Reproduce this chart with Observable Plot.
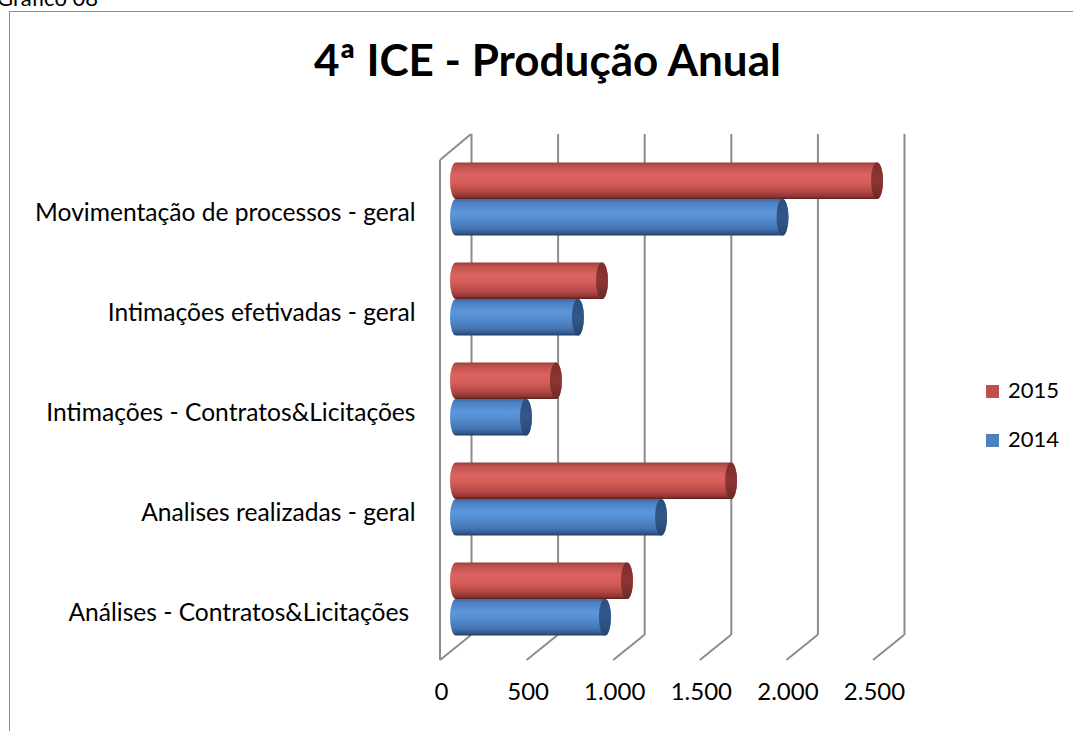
<!DOCTYPE html>
<html><head><meta charset="utf-8">
<script src="https://cdn.jsdelivr.net/npm/d3@7"></script>
<script src="https://cdn.jsdelivr.net/npm/@observablehq/plot@0.6"></script>
<style>
body{margin:0;background:#fff;font-family:Lato,"Open Sans",sans-serif;color:#000;}
#wrap{position:relative;width:1073px;height:731px;overflow:hidden;background:#fff;}
#frame{position:absolute;left:9px;top:11px;width:1200px;height:900px;border-left:1.5px solid #8c8c8c;border-top:1.5px solid #8c8c8c;}
#fig{position:absolute;left:-3px;top:-16px;font-size:22px;white-space:nowrap;}
#title{position:absolute;left:0;width:1095px;top:33px;text-align:center;font-weight:bold;font-size:44px;white-space:nowrap;}
#chart{position:absolute;left:0;top:0;}
.leg{position:absolute;left:986px;font-size:22px;line-height:22px;white-space:nowrap;}
.leg span.sw{display:inline-block;width:13px;height:13px;margin-right:9px;vertical-align:0px;}
</style>
</head><body>
<div id="wrap">
  <div id="fig">Gráfico 08</div>
  <div id="frame"></div>
  <div id="chart"></div>
  <div id="title">4ª ICE - Produção Anual</div>
  <div id="legend"></div>
</div>
<script>
const categories = [
  "Movimentação de processos - geral",
  "Intimações efetivadas - geral",
  "Intimações - Contratos&Licitações",
  "Analises realizadas - geral",
  "Análises - Contratos&Licitações\u00a0"
];
const years = ["2015", "2014"];
const values2015 = [2431, 843, 577, 1588, 987];
const values2014 = [1885, 704, 404, 1184, 860];
const xTicks = [0, 500, 1000, 1500, 2000, 2500];
const yearColors = {"2015": "#c0504d", "2014": "#4f81bd"};

const rows = [];
categories.forEach((c, i) => {
  rows.push({category: c, year: "2015", value: values2015[i]});
  rows.push({category: c, year: "2014", value: values2014[i]});
});
const r2015 = rows.filter(d => d.year === "2015");
const r2014 = rows.filter(d => d.year === "2014");

const fmt = d => d3.format(",")(d).replace(/,/g, ".");
const grid = "#8c8c8c";

const defsMark = () => {
  const defs = d3.create("svg:defs");
  const mk = (id, stops) => {
    const g = defs.append("linearGradient").attr("id", id)
      .attr("x1", 0).attr("y1", 0).attr("x2", 0).attr("y2", 1);
    stops.forEach(([o, c]) => g.append("stop").attr("offset", o).attr("stop-color", c));
  };
  mk("gRed", [[0, "#93403d"], [0.1, "#bf504c"], [0.35, "#dc6460"], [0.55, "#d55d59"], [0.8, "#b34845"], [0.93, "#8d3532"], [1, "#5e1f1d"]]);
  mk("gBlue", [[0, "#3c69a3"], [0.1, "#4c80c2"], [0.35, "#5d97db"], [0.55, "#558cd0"], [0.8, "#4575b3"], [0.93, "#33598e"], [1, "#203a60"]]);
  mk("cRed", [[0, "#7c2e2c"], [0.5, "#8c3735"], [1, "#6e2826"]]);
  mk("cBlue", [[0, "#2b4f7f"], [0.5, "#32588a"], [1, "#264670"]]);
  return defs.node();
};

const floorMark = (index, scales, values, dims) => {
  const g = d3.create("svg:g").attr("stroke", grid).attr("stroke-width", 2).attr("fill", "none");
  const yb = dims.height - dims.marginBottom;
  const yt = dims.marginTop;
  for (const t of xTicks) {
    const x = scales.x(t);
    g.append("line").attr("x1", x + 15).attr("y1", yb - 14).attr("x2", x - 16).attr("y2", yb + 11);
  }
  const x0 = scales.x(0);
  g.append("line").attr("x1", x0 - 16).attr("y1", yt + 12).attr("x2", x0 - 16).attr("y2", yb + 11);
  g.append("line").attr("x1", x0 - 16).attr("y1", yt + 12).attr("x2", x0 + 15).attr("y2", yt - 14);
  return g.node();
};

const chart = Plot.plot({
  width: 1073,
  height: 731,
  marginLeft: 456,
  marginRight: 184,
  marginTop: 148,
  marginBottom: 82,
  style: {fontFamily: "Lato, 'Open Sans', sans-serif", background: "transparent", overflow: "visible", color: "#000"},
  x: {domain: [0, 2500], axis: null},
  y: {domain: categories, padding: 0, axis: null},
  marks: [
    defsMark,
    Plot.ruleX(xTicks, {x: d => d, dx: 15, dy: -14, stroke: grid, strokeWidth: 2}),
    floorMark,
    Plot.barX(r2015, {x: "value", y: "category", fill: "url(#gRed)", insetTop: 13.4, insetBottom: 50, insetLeft: -6, insetRight: -6, rx: 6, ry: 18}),
    Plot.barX(r2015, {x1: "value", x2: "value", y: "category", fill: "url(#cRed)", insetTop: 13.4, insetBottom: 50, insetLeft: -6, insetRight: -6, rx: 6, ry: 18}),
    Plot.barX(r2014, {x: "value", y: "category", fill: "url(#gBlue)", insetTop: 50, insetBottom: 13.4, insetLeft: -6, insetRight: -6, rx: 6, ry: 18}),
    Plot.barX(r2014, {x1: "value", x2: "value", y: "category", fill: "url(#cBlue)", insetTop: 50, insetBottom: 13.4, insetLeft: -6, insetRight: -6, rx: 6, ry: 18}),
    Plot.text(xTicks, {x: d => d, text: fmt, frameAnchor: "bottom", dx: -15, dy: 50, fontSize: 24, fill: "#000"}),
    Plot.text(categories, {y: d => d, text: d => d, frameAnchor: "left", textAnchor: "end", dx: -41, dy: 14, fontSize: 24.6, fill: "#000"})
  ]
});
document.getElementById("chart").appendChild(chart);

const legend = document.getElementById("legend");
years.forEach((y, i) => {
  const div = document.createElement("div");
  div.className = "leg";
  div.style.top = (379 + i * 49) + "px";
  div.innerHTML = `<span class="sw" style="background:${yearColors[y]}"></span>${y}`;
  legend.appendChild(div);
});
</script>
</body></html>
